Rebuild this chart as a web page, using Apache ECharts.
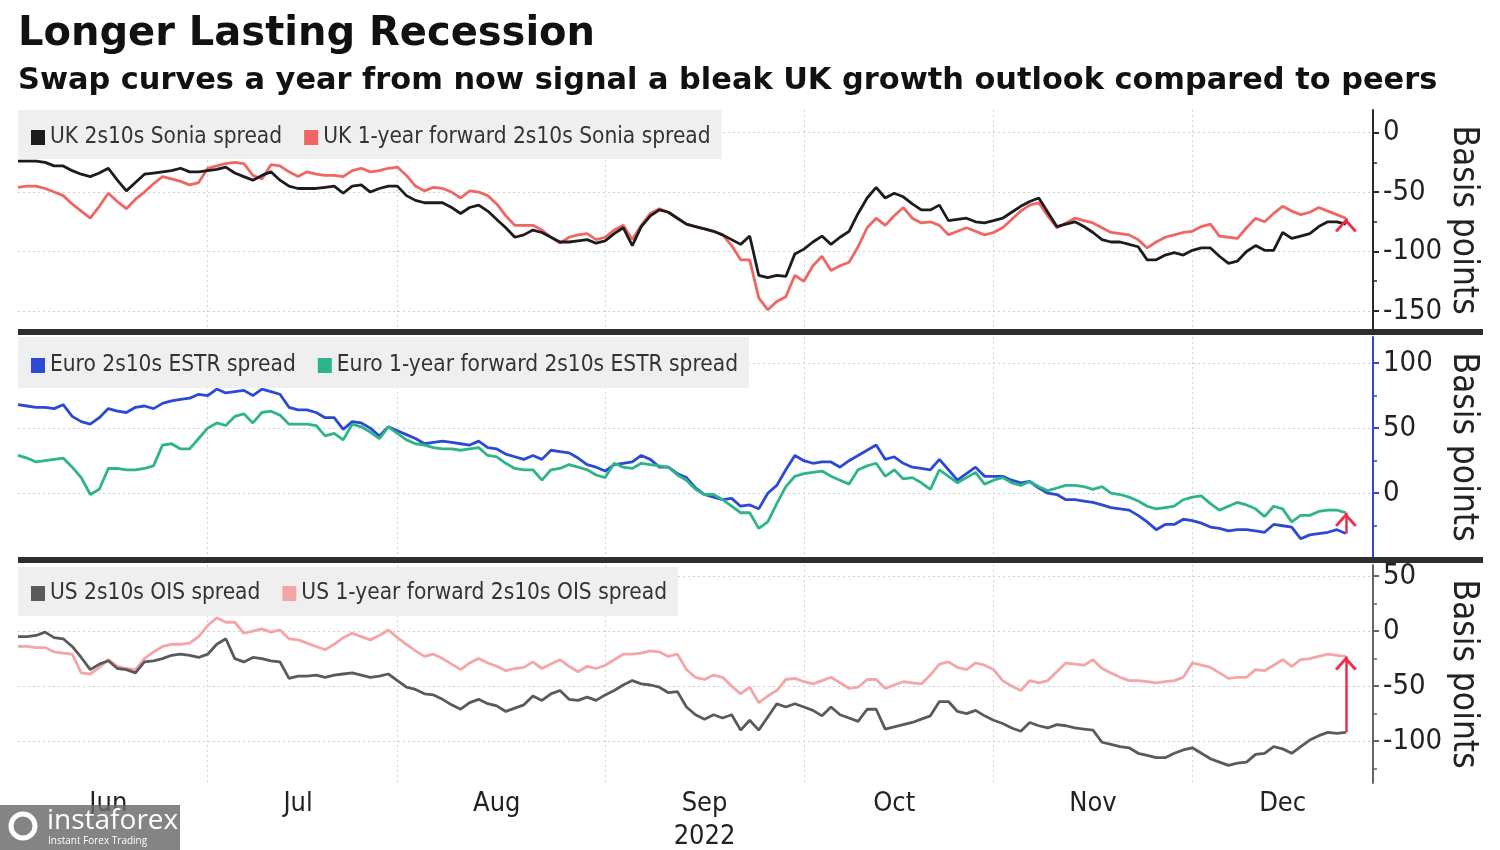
<!DOCTYPE html>
<html><head><meta charset="utf-8">
<script src="https://cdn.jsdelivr.net/npm/echarts@6/dist/echarts.min.js"></script>
<style>html,body{margin:0;padding:0;background:#fff}#c{width:1500px;height:850px}</style>
</head><body><div id="c"></div>
<script>
// ---- axis / category definitions ----
const startDate = '2022-06-02';
const endDate = '2022-12-29';
const monthStarts = ['2022-07-01','2022-08-01','2022-09-01','2022-10-03','2022-11-01','2022-12-01'];
const monthLabelDates = ['2022-06-16','2022-07-15','2022-08-16','2022-09-16','2022-10-17','2022-11-16','2022-12-15'];
const monthLabels = ['Jun','Jul','Aug','Sep\n2022','Oct','Nov','Dec'];

const ukTicks = [-150,-100,-50,0];
const ukMinorTicks = [-125,-75,-25];
const euroTicks = [0,50,100];
const euroMinorTicks = [-25,25,75];
const usTicks = [-100,-50,0,50];
const usMinorTicks = [-125,-75,-25,25];

// ---- series values (basis points, one per business day from startDate) ----
const ukSpot = [-24,-24,-24,-25,-28,-28,-32,-35,-37,-34,
-30,-40,-49,-42,-35,-34,-33,-32,-30,-33,
-33,-32,-31,-29,-34,-37,-40,-36,-33,-40,
-45,-47,-47,-47,-46,-45,-51,-45,-44,-50,
-47,-45,-45,-53,-57,-59,-59,-59,-63,-68,
-63,-61,-66,-73,-80,-88,-86,-82,-84,-88,
-92,-92,-91,-90,-93,-91,-85,-80,-95,-79,
-70,-65,-67,-72,-77,-79,-81,-83,-86,-90,
-94,-87,-120,-122,-120,-121,-102,-98,-92,-87,
-94,-88,-83,-68,-55,-46,-55,-51,-54,-60,
-65,-65,-61,-74,-73,-72,-75,-76,-74,-72,
-67,-62,-58,-55,-67,-79,-77,-75,-79,-84,
-90,-92,-92,-94,-96,-107,-107,-103,-101,-103,
-99,-97,-97,-104,-110,-108,-100,-95,-99,-99,
-84,-89,-87,-85,-79,-75,-75,-77];

const ukFwd = [-46,-45,-45,-47,-50,-53,-60,-66,-72,-62,
-51,-58,-64,-56,-50,-43,-37,-39,-41,-44,
-42,-30,-28,-26,-25,-26,-36,-39,-27,-28,
-33,-37,-33,-35,-36,-36,-37,-32,-30,-33,
-32,-30,-29,-36,-45,-49,-46,-47,-50,-55,
-49,-50,-53,-60,-70,-78,-78,-78,-82,-88,
-93,-88,-86,-85,-90,-88,-82,-78,-90,-78,
-68,-64,-67,-72,-77,-79,-81,-83,-86,-95,
-107,-107,-139,-149,-142,-138,-120,-125,-112,-104,
-116,-112,-109,-96,-80,-72,-78,-70,-63,-72,
-76,-75,-78,-86,-83,-80,-83,-86,-84,-80,
-73,-66,-61,-59,-70,-80,-76,-72,-74,-76,
-80,-84,-85,-86,-90,-97,-92,-88,-86,-84,
-83,-79,-77,-87,-88,-89,-80,-72,-75,-68,
-62,-66,-69,-67,-63,-66,-69,-72];

const euroSpot = [68,67,66,66,65,68,59,55,53,58,
65,63,62,66,67,65,69,71,72,73,
76,75,80,77,78,79,75,80,78,76,
66,64,64,62,58,58,49,55,54,50,
44,51,48,45,42,38,39,40,39,38,
37,40,35,34,30,28,26,29,26,33,
32,31,27,22,20,17,22,23,24,29,
26,20,20,15,12,4,-1,-3,-5,-4,
-10,-9,-12,0,6,18,29,25,23,24,
24,20,25,29,33,37,26,28,23,20,
19,18,26,18,10,15,20,13,13,13,
10,8,9,4,0,-1,-5,-5,-6,-7,
-9,-11,-12,-13,-17,-22,-28,-24,-24,-20,
-21,-23,-26,-27,-29,-28,-28,-29,-30,-24,
-25,-26,-35,-32,-31,-30,-28,-31];

const euroFwd = [29,27,24,25,26,27,20,12,-1,3,
19,19,18,18,19,21,37,38,34,34,
42,50,54,52,59,61,54,62,63,60,
53,53,53,52,44,46,41,53,51,47,
42,51,46,41,38,37,35,34,34,33,
34,35,29,28,23,19,18,18,10,18,
19,22,20,18,14,12,23,20,19,23,
22,21,20,14,10,3,-1,-1,-5,-10,
-15,-15,-27,-22,-8,5,13,15,16,17,
13,10,7,18,21,23,13,18,11,12,
8,3,18,13,8,12,16,7,10,12,
8,6,9,5,2,4,6,6,5,3,
5,0,-1,-3,-6,-10,-12,-11,-10,-5,
-3,-2,-8,-13,-10,-7,-9,-12,-18,-10,
-12,-22,-17,-17,-14,-13,-13,-15];

const usSpot = [-5,-5,-4,-1,-6,-7,-14,-24,-35,-30,
-27,-34,-35,-38,-28,-27,-25,-22,-21,-22,
-24,-21,-12,-7,-25,-28,-24,-25,-27,-28,
-43,-41,-41,-40,-42,-40,-39,-38,-40,-42,
-41,-39,-45,-51,-53,-57,-58,-62,-67,-71,
-65,-62,-66,-68,-73,-70,-67,-59,-63,-57,
-54,-62,-63,-60,-63,-58,-54,-49,-45,-48,
-49,-51,-56,-55,-69,-76,-80,-76,-79,-76,
-90,-81,-90,-78,-66,-69,-66,-69,-72,-77,
-69,-76,-79,-82,-71,-71,-89,-87,-85,-83,
-80,-77,-64,-64,-73,-75,-72,-77,-81,-84,
-88,-91,-83,-86,-88,-85,-86,-88,-89,-90,
-101,-103,-105,-106,-111,-113,-115,-115,-111,-108,
-106,-111,-116,-119,-122,-120,-119,-112,-111,-105,
-107,-111,-105,-99,-95,-92,-93,-92];

const usFwd = [-14,-14,-15,-15,-19,-20,-21,-38,-39,-33,
-26,-32,-34,-35,-25,-19,-14,-12,-12,-11,
-5,5,12,8,8,-2,0,2,-1,1,
-7,-8,-11,-14,-17,-12,-6,-2,-5,-8,
-4,1,-6,-12,-18,-23,-21,-25,-30,-35,
-29,-25,-29,-32,-36,-34,-33,-28,-34,-30,
-26,-32,-37,-32,-34,-31,-26,-21,-21,-20,
-18,-19,-23,-21,-35,-42,-44,-40,-42,-50,
-57,-51,-65,-59,-54,-44,-43,-46,-48,-45,
-42,-47,-52,-51,-44,-44,-52,-49,-46,-47,
-48,-40,-30,-28,-33,-35,-29,-31,-35,-45,
-50,-54,-45,-47,-45,-37,-29,-30,-31,-26,
-34,-38,-42,-45,-45,-46,-47,-46,-45,-42,
-29,-31,-33,-38,-43,-42,-42,-35,-36,-31,
-26,-32,-26,-25,-23,-21,-22,-23];

const names = {
  ukSpot: 'UK 2s10s Sonia spread', ukFwd: 'UK 1-year forward 2s10s Sonia spread',
  euroSpot: 'Euro 2s10s ESTR spread', euroFwd: 'Euro 1-year forward 2s10s ESTR spread',
  usSpot: 'US 2s10s OIS spread', usFwd: 'US 1-year forward 2s10s OIS spread'
};

// ---- build ----
function businessDays(a, b) {
  const out = [];
  let d = new Date(a + 'T00:00:00Z');
  const e = new Date(b + 'T00:00:00Z');
  while (d <= e) {
    const w = d.getUTCDay();
    if (w !== 0 && w !== 6) out.push(d.toISOString().slice(0, 10));
    d = new Date(d.getTime() + 86400000);
  }
  return out;
}
const cats = businessDays(startDate, endDate);
const FONT = "'DejaVu Sans Condensed', 'DejaVu Sans', sans-serif";
const CHEVRON = 'path://M0,11 L10,0 L20,11 L17.8,12.4 L10,3.8 L2.2,12.4 Z';
const RED = '#ee2d4b';

const grids = [
  {left: 18, right: 127, top: 110, height: 220, outerBoundsMode: 'none', containLabel: false},
  {left: 18, right: 127, top: 337, height: 220, outerBoundsMode: 'none', containLabel: false},
  {left: 18, right: 127, top: 565, height: 218, outerBoundsMode: 'none', containLabel: false}
];

function xAx(gi, showLabels) {
  return {
    type: 'category', gridIndex: gi, data: cats, boundaryGap: false,
    axisLine: {show: false}, axisTick: {show: false},
    axisLabel: showLabels ? {
      interval: (i, v) => monthLabelDates.indexOf(v) >= 0,
      formatter: v => monthLabels[monthLabelDates.indexOf(v)],
      color: '#222', fontSize: 27, fontFamily: FONT, margin: 4, lineHeight: 33
    } : {show: false},
    splitLine: {show: true, interval: (i, v) => monthStarts.indexOf(v) >= 0,
      lineStyle: {color: '#d2d2d2', type: [2, 3], width: 1}}
  };
}
function yMain(gi, min, max, ticks, color) {
  return {
    type: 'value', gridIndex: gi, position: 'right', min, max,
    axisLine: {show: true, lineStyle: {color, width: 2}},
    axisTick: {show: true, customValues: ticks, length: 6, lineStyle: {color, width: 2}},
    axisLabel: {customValues: ticks, margin: 10, color: '#222', fontSize: 29, fontFamily: FONT},
    splitLine: {show: true, lineStyle: {color: '#cfcfcf', type: [2, 3], width: 1}},
    name: 'Basis points', nameLocation: 'middle', nameRotate: -90, nameGap: 73,
    nameMoveOverlap: false,
    nameTextStyle: {fontSize: 35, color: '#222', fontFamily: FONT}
  };
}
function yMinor(gi, min, max, ticks, color) {
  return {
    type: 'value', gridIndex: gi, position: 'right', min, max,
    axisLine: {show: false},
    axisTick: {show: true, customValues: ticks, length: 4, lineStyle: {color, width: 1.5}},
    axisLabel: {show: false}, splitLine: {show: false}
  };
}
function line(name, data, color, gi) {
  return {
    type: 'line', name, data, xAxisIndex: gi, yAxisIndex: gi * 2,
    showSymbol: false, symbol: 'none', silent: true, animation: false,
    lineStyle: {color, width: 2.8}, itemStyle: {color}
  };
}
// red arrow from the spot series' last value to the forward series' value on the same day
function addArrow(series, from, to, n) {
  const c = cats[n - 1];
  series.markLine = {
    silent: true, animation: false, symbol: ['none', 'none'],
    label: {show: false}, emphasis: {disabled: true},
    lineStyle: {color: RED, width: 2.5, type: 'solid'},
    data: [[{coord: [c, from]}, {coord: [c, to]}]]
  };
  series.markPoint = {
    silent: true, animation: false, symbol: CHEVRON, symbolSize: [22, 14], symbolOffset: [0, 7],
    itemStyle: {color: RED}, label: {show: false}, emphasis: {disabled: true},
    data: [{coord: [c, to]}]
  };
}
function legend(items, top, pad) {
  return {
    left: 18, top, data: items, icon: 'rect', itemWidth: 14, itemHeight: 15, itemGap: 22,
    selectedMode: false, backgroundColor: '#efefef', borderRadius: 0,
    padding: pad, textStyle: {color: '#333', fontSize: 22.5, fontFamily: FONT}
  };
}

const ukF = line(names.ukFwd, ukFwd, '#ef6663', 0);
const ukS = line(names.ukSpot, ukSpot, '#1c1c1c', 0);
addArrow(ukS, ukSpot[ukSpot.length - 1], ukFwd[ukSpot.length - 1], ukSpot.length);
const euS = line(names.euroSpot, euroSpot, '#2c49d4', 1);
const euF = line(names.euroFwd, euroFwd, '#2db48b', 1);
addArrow(euF, euroSpot[euroSpot.length - 1], euroFwd[euroSpot.length - 1], euroSpot.length);
const usF = line(names.usFwd, usFwd, '#f4a5a5', 2);
const usS = line(names.usSpot, usSpot, '#5a5a5a', 2);
addArrow(usS, usSpot[usSpot.length - 1], usFwd[usSpot.length - 1], usSpot.length);

const option = {
  animation: false,
  backgroundColor: '#ffffff',
  textStyle: {fontFamily: FONT},
  title: [
    {text: 'Longer Lasting Recession', left: 18, top: 15, padding: 0,
     textStyle: {fontFamily: "'DejaVu Sans', sans-serif", fontWeight: 'bold', fontSize: 40, color: '#111'}},
    {text: 'Swap curves a year from now signal a bleak UK growth outlook compared to peers', left: 18, top: 66, padding: 0,
     textStyle: {fontFamily: "'DejaVu Sans', sans-serif", fontWeight: 'bold', fontSize: 30.4, color: '#111'}}
  ],
  grid: grids,
  legend: [
    legend([names.ukSpot, names.ukFwd], 110, [16, 11, 10, 13]),
    legend([names.euroSpot, names.euroFwd], 337, [17, 11, 11, 13]),
    legend([names.usSpot, names.usFwd], 567, [15, 11, 11, 13])
  ],
  xAxis: [xAx(0, false), xAx(1, false), xAx(2, true)],
  yAxis: [
    yMain(0, -166, 19, ukTicks, '#2a2a2a'), yMinor(0, -166, 19, ukMinorTicks, '#2a2a2a'),
    yMain(1, -49, 120, euroTicks, '#2c49d4'), yMinor(1, -49, 120, euroMinorTicks, '#2c49d4'),
    yMain(2, -138, 60, usTicks, '#666666'), yMinor(2, -138, 60, usMinorTicks, '#666666')
  ],
  series: [ukF, ukS, euS, euF, usF, usS],
  graphic: [
    {type: 'rect', z: 50, shape: {x: 18, y: 329, width: 1465, height: 6}, style: {fill: '#2e2e2e'}},
    {type: 'rect', z: 50, shape: {x: 18, y: 557, width: 1465, height: 6}, style: {fill: '#2e2e2e'}},
    {type: 'rect', z: 60, shape: {x: 0, y: 805, width: 180, height: 45}, style: {fill: 'rgba(105,105,105,0.82)'}},
    {type: 'circle', z: 61, shape: {cx: 23, cy: 826, r: 12}, style: {fill: 'none', stroke: '#fff', lineWidth: 5}},
    {type: 'text', z: 61, left: 47, top: 807, style: {text: 'instaforex', fill: '#fff', font: "28px 'Open Sans', sans-serif"}},
    {type: 'text', z: 61, left: 48, top: 836, style: {text: 'Instant Forex Trading', fill: '#fff', font: "10px 'Open Sans', sans-serif"}}
  ]
};
const chart = echarts.init(document.getElementById('c'), null, {renderer: 'canvas'});
chart.setOption(option);
</script></body></html>
